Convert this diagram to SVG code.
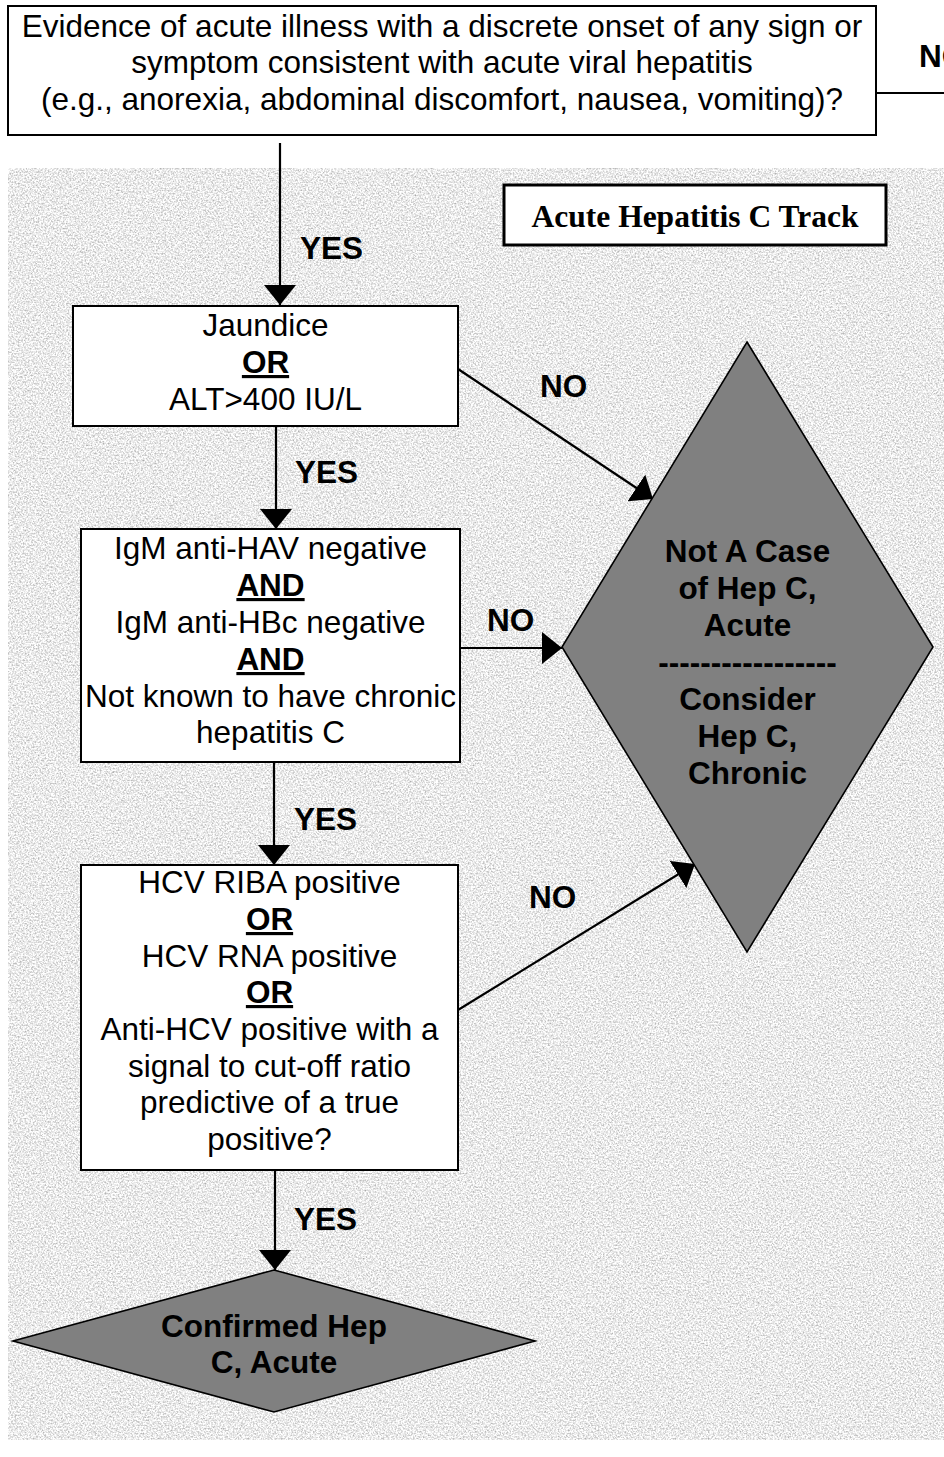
<svg xmlns="http://www.w3.org/2000/svg" width="944" height="1457" viewBox="0 0 944 1457">
  <style>
    .box { fill: #ffffff; stroke: #000000; stroke-width: 2; }
    .dia { fill: #808080; stroke: #000000; stroke-width: 1.6; }
    .ln { stroke: #000000; stroke-width: 2.2; fill: none; marker-end: url(#ah); }
    .t { font-family: "Liberation Sans", Arial, sans-serif; font-size: 31.5px; text-anchor: middle; fill: #000000; }
    .b { font-weight: bold; }
    .u { text-decoration: underline; }
    .lbl { font-family: "Liberation Sans", Arial, sans-serif; font-size: 31.5px; font-weight: bold; fill: #000000; }
    .title { font-family: "Liberation Serif", "Times New Roman", serif; font-size: 31.5px; font-weight: bold; text-anchor: middle; fill: #000000; }
  </style>
  <defs>
    <marker id="ah" markerUnits="userSpaceOnUse" markerWidth="22" markerHeight="32" refX="20" refY="16" orient="auto">
      <path d="M0,0 L20,16 L0,32 z" fill="#000000"/>
    </marker>
    <filter id="paper" filterUnits="objectBoundingBox" x="0" y="0" width="1" height="1" color-interpolation-filters="sRGB">
      <feTurbulence type="fractalNoise" baseFrequency="0.6" numOctaves="3" seed="7"/>
      <feColorMatrix type="matrix" values="0.6 0 0 0 0.62  0.6 0 0 0 0.62  0.6 0 0 0 0.62  0 0 0 0 1"/>
    </filter>
  </defs>

  <rect x="0" y="0" width="944" height="1457" fill="#ffffff"/>
  <rect id="background" x="8" y="168" width="936" height="1272" fill="#e8e8e8" filter="url(#paper)"/>

  <g id="connectors">
    <line x1="876" y1="93" x2="944" y2="93" stroke="#000" stroke-width="2"/>
    <line class="ln" x1="280" y1="143" x2="280" y2="305"/>
    <line class="ln" x1="276" y1="426" x2="276" y2="529"/>
    <line class="ln" x1="458" y1="369" x2="653" y2="499"/>
    <line class="ln" x1="460" y1="648" x2="562" y2="648"/>
    <line class="ln" x1="274" y1="762" x2="274" y2="865"/>
    <line class="ln" x1="458" y1="1010" x2="695" y2="864"/>
    <line class="ln" x1="275" y1="1170" x2="275" y2="1270"/>
    <text class="lbl" x="919" y="66.5">NO</text>
    <text class="lbl" x="300" y="259">YES</text>
    <text class="lbl" x="295" y="483">YES</text>
    <text class="lbl" x="540" y="397">NO</text>
    <text class="lbl" x="487" y="631">NO</text>
    <text class="lbl" x="294" y="830">YES</text>
    <text class="lbl" x="529" y="908">NO</text>
    <text class="lbl" x="294" y="1230">YES</text>
  </g>

  <g id="start">
    <rect class="box" x="8" y="6" width="868" height="129"/>
    <text class="t" x="442" y="36.5">Evidence of acute illness with a discrete onset of any sign or</text>
    <text class="t" x="442" y="73">symptom consistent with acute viral hepatitis</text>
    <text class="t" x="442" y="110">(e.g., anorexia, abdominal discomfort, nausea, vomiting)?</text>
  </g>

  <g id="track-title">
    <rect x="504" y="185" width="382" height="60" fill="#ffffff" stroke="#000" stroke-width="3"/>
    <text class="title" x="695" y="227">Acute Hepatitis C Track</text>
  </g>

  <g id="jaundice">
    <rect class="box" x="73" y="306" width="385" height="120"/>
    <text class="t" x="265.5" y="336">Jaundice</text>
    <text class="t b u" x="265.5" y="373">OR</text>
    <text class="t" x="265.5" y="410">ALT&gt;400 IU/L</text>
  </g>

  <g id="igm">
    <rect class="box" x="81" y="529" width="379" height="233"/>
    <text class="t" x="270.5" y="559">IgM anti-HAV negative</text>
    <text class="t b u" x="270.5" y="596">AND</text>
    <text class="t" x="270.5" y="633">IgM anti-HBc negative</text>
    <text class="t b u" x="270.5" y="670">AND</text>
    <text class="t" x="270.5" y="707">Not known to have chronic</text>
    <text class="t" x="270.5" y="743">hepatitis C</text>
  </g>

  <g id="hcv">
    <rect class="box" x="81" y="865" width="377" height="305"/>
    <text class="t" x="269.5" y="893">HCV RIBA positive</text>
    <text class="t b u" x="269.5" y="930">OR</text>
    <text class="t" x="269.5" y="967">HCV RNA positive</text>
    <text class="t b u" x="269.5" y="1003">OR</text>
    <text class="t" x="269.5" y="1040">Anti-HCV positive with a</text>
    <text class="t" x="269.5" y="1077">signal to cut-off ratio</text>
    <text class="t" x="269.5" y="1113">predictive of a true</text>
    <text class="t" x="269.5" y="1150">positive?</text>
  </g>

  <g id="not-a-case">
    <polygon class="dia" points="747,342 933,647 747,952 562,647"/>
    <text class="t b" x="747.5" y="562">Not A Case</text>
    <text class="t b" x="747.5" y="599">of Hep C,</text>
    <text class="t b" x="747.5" y="636">Acute</text>
    <text class="t b" x="747.5" y="673">-----------------</text>
    <text class="t b" x="747.5" y="710">Consider</text>
    <text class="t b" x="747.5" y="747">Hep C,</text>
    <text class="t b" x="747.5" y="784">Chronic</text>
  </g>

  <g id="confirmed">
    <polygon class="dia" points="274,1270 535,1341 274,1412 13,1341"/>
    <text class="t b" x="274" y="1337">Confirmed Hep</text>
    <text class="t b" x="274" y="1373">C, Acute</text>
  </g>
</svg>
